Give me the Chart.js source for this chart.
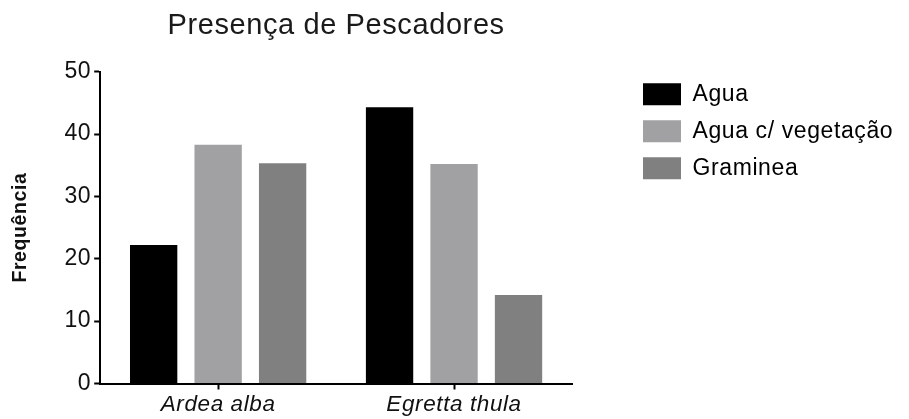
<!DOCTYPE html>
<html>
<head>
<meta charset="utf-8">
<title>Presença de Pescadores</title>
<script src="https://cdn.jsdelivr.net/npm/chart.js@4"></script>
<style>
  body { margin: 0; background: #fff; }
</style>
</head>
<body>
<canvas id="myChart" width="909" height="419"></canvas>
<script>
// dados do grafico
const especies = ["Ardea alba", "Egretta thula"];
const agua = [22.2, 44.3];
const aguaVegetacao = [38.3, 35.2];
const graminea = [35.3, 14.2];
const yTicks = [0, 10, 20, 30, 40, 50];

const fontFamily = "'Liberation Sans', Arial, sans-serif";

// letter spacing so the text is as wide as the original
const spacing = {
  id: "spacing",
  beforeUpdate(chart) {
    chart.ctx.letterSpacing = "0.6px";
  },
  beforeDraw(chart) {
    chart.ctx.letterSpacing = "0.6px";
  },
};

// legend sits in the free space right of the plot
const legendNudge = {
  id: "legendNudge",
  afterLayout(chart) {
    const lg = chart.legend;
    const pad = lg.options.labels.padding;
    lg.left = chart.chartArea.right + 71 - pad;
    lg.right = chart.width;
    lg.width = lg.right - lg.left;
    lg.top = chart.chartArea.top + 11 - pad;
    lg.bottom = chart.height;
    lg.height = lg.bottom - lg.top;
  },
};

const ctx = document.getElementById("myChart").getContext("2d");
const myChart = new Chart(ctx, {
  type: "bar",
  data: {
    labels: especies,
    datasets: [
      { label: "Agua", data: agua, backgroundColor: "#000000" },
      { label: "Agua c/ vegetação", data: aguaVegetacao, backgroundColor: "#a1a1a4" },
      { label: "Graminea", data: graminea, backgroundColor: "#808080" },
    ],
  },
  options: {
    responsive: false,
    animation: false,
    categoryPercentage: 0.82,
    barPercentage: 0.734,
    layout: {
      padding: { left: 0, right: 337, top: 0, bottom: 0 },
    },
    plugins: {
      title: {
        display: true,
        text: "Presença de Pescadores",
        fullSize: false,
        color: "#1a1a1a",
        font: { family: fontFamily, size: 29, weight: "normal" },
        padding: { top: 8.5, bottom: 28.4 },
      },
      legend: {
        position: "chartArea",
        align: "start",
        labels: {
          boxWidth: 38,
          boxHeight: 22,
          padding: 14,
          color: "#000",
          font: { family: fontFamily, size: 23 },
        },
      },
      tooltip: { enabled: false },
    },
    scales: {
      x: {
        grid: {
          offset: false,
          drawOnChartArea: false,
          tickLength: 6,
          tickWidth: 2,
          tickColor: "#000",
        },
        border: { color: "#000", width: 2 },
        ticks: {
          color: "#111",
          padding: 3.5,
          font: { family: fontFamily, size: 22.5, style: "italic", lineHeight: 1 },
        },
      },
      y: {
        min: yTicks[0],
        max: yTicks[yTicks.length - 1],
        afterBuildTicks(scale) {
          scale.ticks = yTicks.map((v) => ({ value: v }));
        },
        grid: {
          drawOnChartArea: false,
          tickLength: 6,
          tickWidth: 2,
          tickColor: "#000",
        },
        border: { color: "#000", width: 2 },
        ticks: {
          color: "#111",
          padding: 3,
          font: { family: fontFamily, size: 23 },
        },
        title: {
          display: true,
          text: "Frequência",
          color: "#111",
          font: { family: fontFamily, size: 19.5, weight: "bold" },
          padding: { top: 9, bottom: 29 },
        },
      },
    },
  },
  plugins: [spacing, legendNudge],
});
</script>
</body>
</html>
